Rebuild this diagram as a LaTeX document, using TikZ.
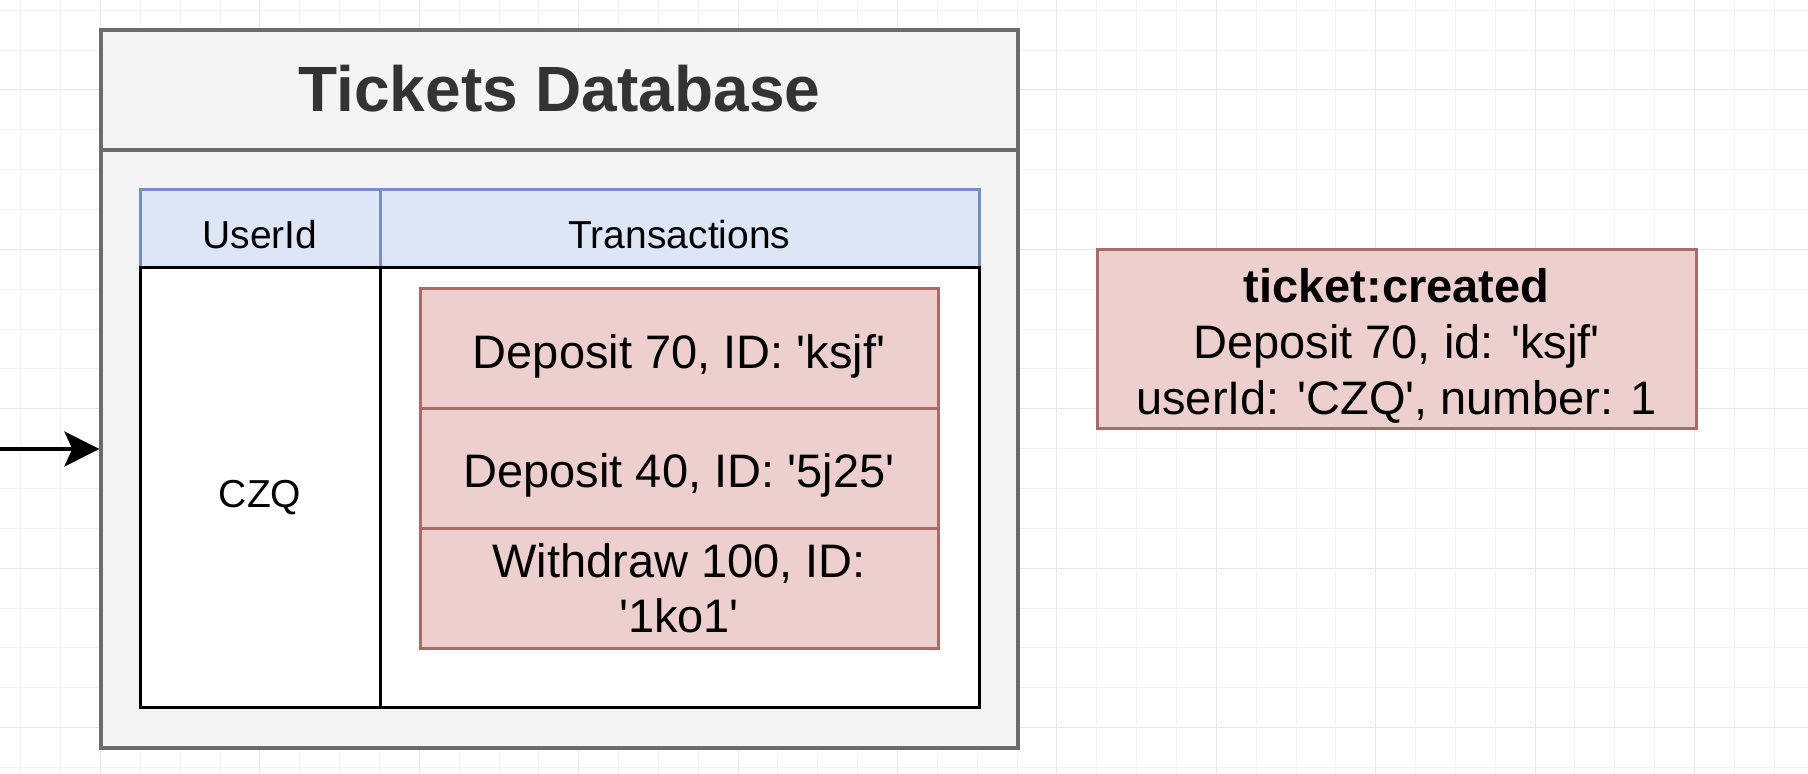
\documentclass[tikz,border=0pt]{standalone}
\usepackage{fontspec}
\setmainfont{Liberation Sans}
\usetikzlibrary{arrows.meta}
\definecolor{gridminor}{HTML}{F3F3F3}
\definecolor{gridmajor}{HTML}{E8E8E8}
\definecolor{outerfill}{HTML}{F4F4F4}
\definecolor{outerdraw}{HTML}{6B6B6B}
\definecolor{titlecol}{HTML}{333333}
\definecolor{hdrfill}{HTML}{DCE6F6}
\definecolor{hdrdraw}{HTML}{7890C0}
\definecolor{redfill}{HTML}{EDCFCE}
\definecolor{reddraw}{HTML}{A86B68}
\newcommand{\myq}{\textquotesingle}
\begin{document}
\begin{tikzpicture}[x=0.5pt,y=-0.5pt,
  box/.style={draw, rectangle, inner sep=0pt, align=center},
  outerbox/.style={box, fill=outerfill, draw=outerdraw, line width=1.65pt},
  hdr/.style={box, fill=hdrfill, draw=hdrdraw, line width=1.5pt, font=\fontsize{19.5}{23}\selectfont, text height=19.3pt, text depth=0pt},
  cell/.style={box, fill=white, draw=black, line width=1.5pt, font=\fontsize{19.5}{23}\selectfont},
  redbox/.style={box, fill=redfill, draw=reddraw, line width=1.5pt, font=\fontsize{23.5}{27.5}\selectfont},
  gridln/.style={line width=0.5pt},
  arr/.style={-{Stealth[length=17.5pt,width=17.5pt,inset=4pt]}, line width=1.75pt, black}
]
\useasboundingbox (0,0) rectangle (1808,774);
\fill[white] (0,0) rectangle (1808,774);
% grid
\foreach \i in {0,...,44} \draw[gridln, gridminor] ({20.8+39.85*\i},0) -- ({20.8+39.85*\i},774);
\foreach \j in {0,...,19} \draw[gridln, gridminor] (0,{10.3+39.85*\j}) -- (1808,{10.3+39.85*\j});
\foreach \i in {2,6,...,42} \draw[gridln, gridmajor] ({20.8+39.85*\i},0) -- ({20.8+39.85*\i},774);
\foreach \j in {2,6,...,18} \draw[gridln, gridmajor] (0,{10.3+39.85*\j}) -- (1808,{10.3+39.85*\j});

% database container
\node[outerbox, minimum width=458.5pt, minimum height=359pt] (outer) at (559.5,389) {};
\node[outerbox, minimum width=458.5pt, minimum height=60pt, text=titlecol,
      font=\bfseries\fontsize{32}{38}\selectfont, text height=22pt, text depth=0pt] (title) at (559.5,90) {Tickets Database};

% table header
\node[hdr, minimum width=120pt, minimum height=39pt] (uhdr) at (260,229) {UserId};
\node[hdr, minimum width=299.5pt, minimum height=39pt] (thdr) at (679.5,229) {Transactions};
% table body
\node[cell, minimum width=120pt, minimum height=219.75pt, text height=20pt, text depth=0pt] (ucell) at (260,487.75) {CZQ};
\node[cell, minimum width=299.5pt, minimum height=219.75pt] (tcell) at (679.5,487.75) {};

% transactions
\node[redbox, minimum width=259pt, minimum height=59.65pt, text height=20.3pt, text depth=0pt] (t1) at (679,348.65) {Deposit 70, ID: \myq ksjf\myq};
\node[redbox, minimum width=259pt, minimum height=60pt, text height=19pt, text depth=0pt] (t2) at (679,468.3) {Deposit 40, ID: \myq 5j25\myq};
\node[redbox, minimum width=259pt, minimum height=60pt] (t3) at (679,588.3) {Withdraw 100, ID:\\\myq 1ko1\myq};

% event
\node[redbox, minimum width=299.5pt, minimum height=89.5pt, font=\fontsize{23.5}{28}\selectfont] (evt) at (1396.5,339.5)
  {\rule{0pt}{23.2pt}\textbf{ticket:created}\\Deposit 70, id: \myq ksjf\myq\\userId: \myq CZQ\myq, number: 1};

% incoming arrow
\coordinate (src) at (0,449);
\draw[arr] (src) -- (src -| outer.west);
\end{tikzpicture}
\end{document}
